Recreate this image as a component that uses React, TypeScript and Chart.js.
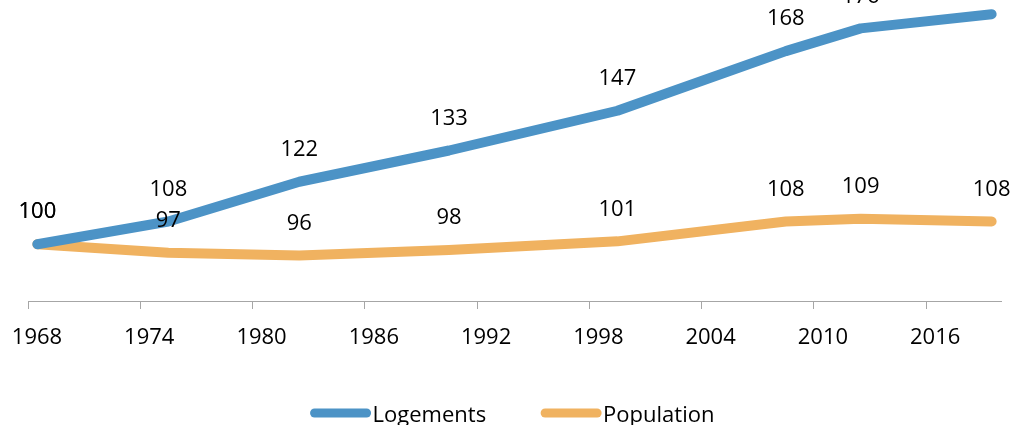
import React, { useEffect, useRef } from "react";
import { Chart, registerables } from "chart.js";

Chart.register(...registerables);

const years = [1968, 1975, 1982, 1990, 1999, 2008, 2012, 2019];
const logements = [100, 108, 122, 133, 147, 168, 176, 181];
const population = [100, 97, 96, 98, 101, 108, 109, 108];
const seriesNames = ["Logements", "Population"];
const seriesColors = ["#4C93C6", "#F0B260"];
const tickYears = [1968, 1974, 1980, 1986, 1992, 1998, 2004, 2010, 2016];

const FONT = "'Open Sans', sans-serif";
const FONT_SIZE = 22;

const labelPlugin = {
  id: "valueLabels",
  afterDatasetsDraw(chart: any) {
    const ctx = chart.ctx;
    ctx.save();
    ctx.font = `${FONT_SIZE}px ${FONT}`;
    ctx.fillStyle = "#000000";
    ctx.textAlign = "center";
    ctx.textBaseline = "middle";
    chart.data.datasets.forEach((ds: any, i: number) => {
      const meta = chart.getDatasetMeta(i);
      meta.data.forEach((pt: any, j: number) => {
        const v = ds.data[j].y;
        ctx.fillText(String(v), pt.x, pt.y - 32);
      });
    });
    ctx.restore();
  },
};

const legendPlugin = {
  id: "customLegend",
  afterDraw(chart: any) {
    const ctx = chart.ctx;
    ctx.save();
    ctx.font = `${FONT_SIZE}px ${FONT}`;
    ctx.textBaseline = "alphabetic";
    ctx.textAlign = "left";
    const lineW = 60;
    const gapItems = 55;
    const names = chart.data.datasets.map((d: any) => d.label);
    const widths = names.map((n: string) => lineW + 2 + ctx.measureText(n).width);
    const total = widths.reduce((a: number, b: number) => a + b, 0) + gapItems * (names.length - 1);
    let x = chart.width / 2 - total / 2 + 6;
    const lineY = 413;
    const textY = 422;
    names.forEach((n: string, i: number) => {
      const col = chart.data.datasets[i].borderColor;
      ctx.strokeStyle = col;
      ctx.lineWidth = 9;
      ctx.lineCap = "round";
      ctx.beginPath();
      ctx.moveTo(x + 4, lineY);
      ctx.lineTo(x + lineW - 4, lineY);
      ctx.stroke();
      ctx.fillStyle = "#000000";
      ctx.fillText(n, x + lineW + 2, textY);
      x += widths[i] + gapItems;
    });
    ctx.restore();
  },
};

export default function App() {
  const ref = useRef<HTMLCanvasElement | null>(null);

  useEffect(() => {
    document.body.style.margin = "0";
    if (!ref.current) return;
    const chart = new Chart(ref.current, {
      type: "line",
      data: {
        datasets: [
          {
            label: seriesNames[0],
            data: years.map((yr, i) => ({ x: yr, y: logements[i] })),
            borderColor: seriesColors[0],
            backgroundColor: seriesColors[0],
            borderWidth: 10,
            borderCapStyle: "round",
            borderJoinStyle: "round",
            pointRadius: 0,
            tension: 0,
            clip: 20,
          },
          {
            label: seriesNames[1],
            data: years.map((yr, i) => ({ x: yr, y: population[i] })),
            borderColor: seriesColors[1],
            backgroundColor: seriesColors[1],
            borderWidth: 10,
            borderCapStyle: "round",
            borderJoinStyle: "round",
            pointRadius: 0,
            tension: 0,
            clip: 20,
          },
        ],
      },
      options: {
        animation: false,
        responsive: false,
        maintainAspectRatio: false,
        layout: { padding: { left: 28, right: 12, top: 0, bottom: 0 } },
        plugins: {
          legend: { display: false },
          tooltip: { enabled: false },
        },
        scales: {
          x: {
            type: "linear",
            min: 1967.5,
            max: 2019.5,
            afterBuildTicks: (scale: any) => {
              scale.ticks = tickYears.map((t) => ({ value: t - 0.5 }));
            },
            afterFit: (scale: any) => {
              scale.height = 124;
              scale.paddingLeft = 0;
              scale.paddingRight = 0;
            },
            grid: {
              display: true,
              drawOnChartArea: false,
              drawTicks: true,
              tickLength: 8,
              color: "#A6A6A6",
            },
            border: { display: true, color: "#A6A6A6", width: 1 },
            ticks: {
              autoSkip: false,
              maxRotation: 0,
              padding: 16,
              labelOffset: 9,
              color: "#000000",
              font: { family: FONT, size: FONT_SIZE },
              callback: (v: any) => String(Math.round(Number(v) + 0.5)),
            },
          },
          y: {
            display: false,
            min: 80,
            max: 186,
          },
        },
      },
      plugins: [labelPlugin, legendPlugin],
    });
    return () => chart.destroy();
  }, []);

  return (
    <div style={{ width: 1013, height: 425, position: "relative", background: "#fff" }}>
      <canvas ref={ref} width={1013} height={425} style={{ display: "block" }} />
    </div>
  );
}
